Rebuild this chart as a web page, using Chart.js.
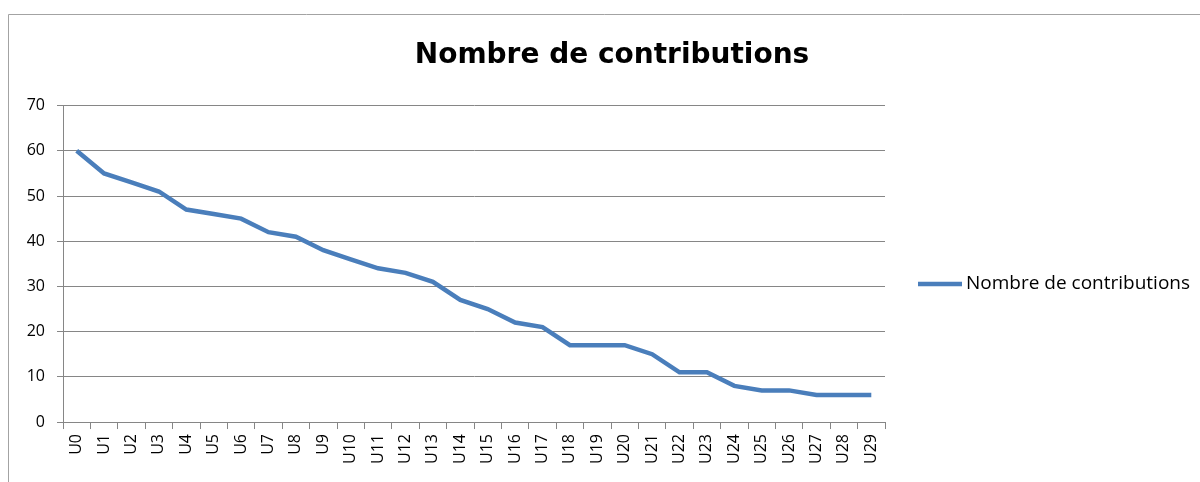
<!DOCTYPE html>
<html>
<head>
<meta charset="utf-8">
<script src="https://cdn.jsdelivr.net/npm/chart.js@4.4.1/dist/chart.umd.min.js"></script>
<style>
  html, body { margin: 0; padding: 0; background: #fff; }
  #wrap { width: 1200px; height: 482px; }
</style>
</head>
<body>
<div id="wrap"><canvas id="chart" width="1200" height="482"></canvas></div>
<script>
const users = ['U0', 'U1', 'U2', 'U3', 'U4', 'U5', 'U6', 'U7', 'U8', 'U9',
  'U10', 'U11', 'U12', 'U13', 'U14', 'U15', 'U16', 'U17', 'U18', 'U19',
  'U20', 'U21', 'U22', 'U23', 'U24', 'U25', 'U26', 'U27', 'U28', 'U29'];
const contributions = [60, 55, 53, 51, 47, 46, 45, 42, 41, 38,
  36, 34, 33, 31, 27, 25, 22, 21, 17, 17,
  17, 15, 11, 11, 8, 7, 7, 6, 6, 6];
const yTicks = [0, 10, 20, 30, 40, 50, 60, 70];
const seriesName = 'Nombre de contributions';

const FONT = "'Open Sans', 'Liberation Sans', sans-serif";
const AXIS_GREY = '#868686';

// outer frame of the chart object (top and left edges only)
const framePlugin = {
  id: 'frame',
  beforeDraw(chart) {
    const ctx = chart.ctx;
    ctx.save();
    ctx.strokeStyle = '#a3a3a3';
    ctx.lineWidth = 1;
    ctx.beginPath();
    ctx.moveTo(8.5, chart.height);
    ctx.lineTo(8.5, 14.5);
    ctx.lineTo(chart.width, 14.5);
    ctx.stroke();
    ctx.restore();
  }
};

// single-entry legend to the right of the plot, Excel style
const sideLegend = {
  id: 'sideLegend',
  afterDraw(chart) {
    const ds = chart.data.datasets[0];
    const ctx = chart.ctx;
    const x0 = chart.chartArea.right + 33;
    const y = 284;
    ctx.save();
    ctx.strokeStyle = ds.borderColor;
    ctx.lineWidth = ds.borderWidth;
    ctx.beginPath();
    ctx.moveTo(x0, y);
    ctx.lineTo(x0 + 44, y);
    ctx.stroke();
    ctx.fillStyle = '#000';
    ctx.font = '19px ' + FONT;
    ctx.textBaseline = 'middle';
    ctx.fillText(ds.label, x0 + 48, y);
    ctx.restore();
  }
};

new Chart(document.getElementById('chart'), {
  type: 'line',
  data: {
    labels: users,
    datasets: [{
      label: seriesName,
      data: contributions,
      borderColor: '#4a7ebb',
      backgroundColor: '#4a7ebb',
      borderWidth: 4.5,
      pointRadius: 0,
      tension: 0,
      fill: false
    }]
  },
  options: {
    responsive: false,
    animation: false,
    devicePixelRatio: 1,
    layout: { padding: { left: 24, right: 0, top: 0, bottom: 13 } },
    plugins: {
      title: {
        display: true,
        text: seriesName,
        color: '#000',
        font: { family: "'DejaVu Sans', sans-serif", size: 28, weight: 'bold' },
        padding: { top: 39, bottom: 33 }
      },
      legend: { display: false },
      tooltip: { enabled: false }
    },
    scales: {
      x: {
        offset: true,
        grid: { offset: true, drawOnChartArea: false, drawTicks: true, tickLength: 7, color: AXIS_GREY },
        border: { display: true, color: AXIS_GREY },
        ticks: {
          autoSkip: false, minRotation: 90, maxRotation: 90,
          color: '#000', padding: 5,
          font: { family: FONT, size: 16 }
        }
      },
      y: {
        min: yTicks[0],
        max: yTicks[yTicks.length - 1],
        afterFit(scale) { scale.width = 39; },
        afterBuildTicks(scale) { scale.ticks = yTicks.map(v => ({ value: v })); },
        grid: { color: AXIS_GREY, tickLength: 6 },
        border: { display: true, color: AXIS_GREY },
        ticks: {
          color: '#000', padding: 12,
          font: { family: FONT, size: 16 }
        }
      },
      // empty right-hand axis that keeps room for the legend
      legendSpace: {
        position: 'right',
        afterFit(scale) { scale.width = 315; },
        grid: { display: false },
        border: { display: false },
        ticks: { display: false }
      }
    }
  },
  plugins: [framePlugin, sideLegend]
});
</script>
</body>
</html>
